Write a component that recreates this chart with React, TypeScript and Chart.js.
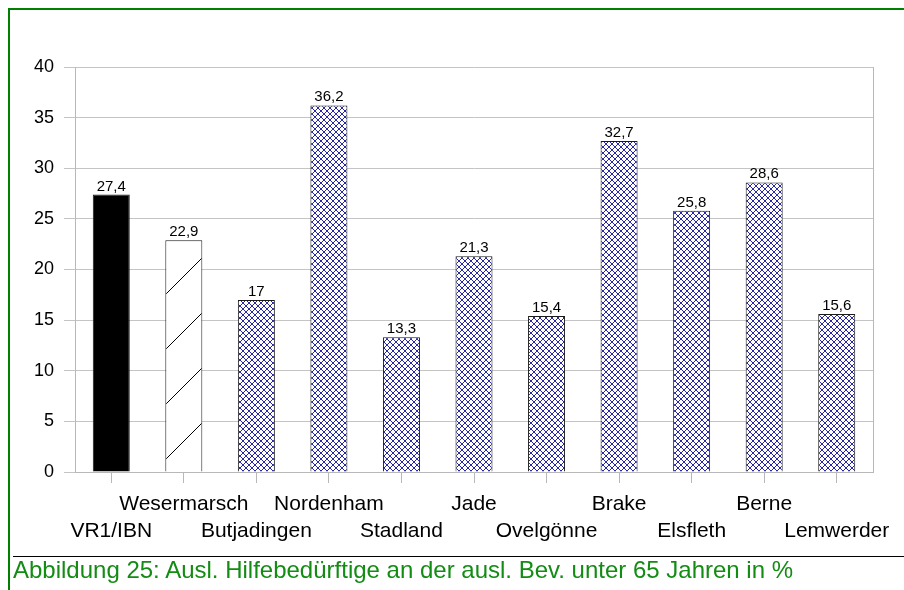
import React, { useEffect, useRef } from 'react';
import { Chart, registerables } from 'chart.js';

Chart.register(...registerables);

const categories = ['VR1/IBN', 'Wesermarsch', 'Butjadingen', 'Nordenham', 'Stadland', 'Jade', 'Ovelgönne', 'Brake', 'Elsfleth', 'Berne', 'Lemwerder'];
const values = [27.4, 22.9, 17, 36.2, 13.3, 21.3, 15.4, 32.7, 25.8, 28.6, 15.6];
const yMin = 0;
const yMax = 40;
const yStep = 5;
const caption = 'Abbildung 25: Ausl. Hilfebedürftige an der ausl. Bev. unter 65 Jahren in %';

const FONT = '"Liberation Sans", Arial, sans-serif';

function makeCrossHatch(): CanvasPattern | string {
  const n = 6;
  const c = document.createElement('canvas');
  c.width = n;
  c.height = n;
  const g = c.getContext('2d');
  if (!g) return '#2a2aa8';
  g.fillStyle = '#ffffff';
  g.fillRect(0, 0, n, n);
  g.fillStyle = '#2828a4';
  for (let i = 0; i < n; i++) {
    g.fillRect(i, i, 1, 1);
    g.fillRect(i, n - 1 - i, 1, 1);
  }
  return g.createPattern(c, 'repeat') || '#2a2aa8';
}

function makeDiagonal(): CanvasPattern | string {
  const s = 55;
  const c = document.createElement('canvas');
  c.width = s;
  c.height = s;
  const g = c.getContext('2d');
  if (!g) return '#ffffff';
  g.fillStyle = '#ffffff';
  g.fillRect(0, 0, s, s);
  g.strokeStyle = '#000000';
  g.lineWidth = 1;
  g.beginPath();
  g.moveTo(-1, 21);
  g.lineTo(21, -1);
  g.moveTo(19, s + 1);
  g.lineTo(s + 1, 19);
  g.stroke();
  return g.createPattern(c, 'repeat') || '#ffffff';
}

const valueLabels = {
  id: 'valueLabels',
  afterDatasetsDraw(chart: any) {
    const ctx = chart.ctx;
    const meta = chart.getDatasetMeta(0);
    ctx.save();
    ctx.font = `15px ${FONT}`;
    ctx.fillStyle = '#000';
    ctx.textAlign = 'center';
    ctx.textBaseline = 'alphabetic';
    meta.data.forEach((bar: any, i: number) => {
      ctx.fillText(String(values[i]).replace('.', ','), bar.x, bar.y - 4);
    });
    ctx.restore();
  },
};

const plotBorder = {
  id: 'plotBorder',
  afterDraw(chart: any) {
    const { ctx, chartArea } = chart;
    ctx.save();
    ctx.strokeStyle = '#b8b8b8';
    ctx.lineWidth = 1;
    ctx.beginPath();
    ctx.moveTo(Math.round(chartArea.right) + 0.5, chartArea.top);
    ctx.lineTo(Math.round(chartArea.right) + 0.5, chartArea.bottom);
    ctx.stroke();
    ctx.restore();
  },
};

export default function App() {
  const ref = useRef<HTMLCanvasElement | null>(null);

  useEffect(() => {
    document.body.style.margin = '0';
    const canvas = ref.current;
    if (!canvas) return;
    const cross = makeCrossHatch();
    const diag = makeDiagonal();
    const bg = values.map((_, i) => (i === 0 ? '#000000' : i === 1 ? diag : cross));
    const labels = categories.map((c, i) => (i % 2 === 1 ? [c, ''] : ['', c]));

    const chart = new Chart(canvas, {
      type: 'bar',
      data: {
        labels,
        datasets: [
          {
            data: values,
            backgroundColor: bg as any,
            borderColor: '#1a1a1a',
            borderWidth: 1,
            categoryPercentage: 1,
            barPercentage: 0.51,
          },
        ],
      },
      options: {
        responsive: false,
        maintainAspectRatio: false,
        animation: false,
        layout: { padding: { top: 67, right: 31, left: 0, bottom: 0 } },
        plugins: {
          legend: { display: false },
          tooltip: { enabled: false },
        },
        scales: {
          x: {
            grid: {
              display: true,
              drawOnChartArea: false,
              offset: false,
              tickLength: 11,
              color: '#b8b8b8',
            },
            border: { display: true, color: '#b8b8b8' },
            ticks: {
              color: '#000',
              font: { family: FONT, size: 21, lineHeight: '27px' },
              padding: 8,
              maxRotation: 0,
              minRotation: 0,
              autoSkip: false,
            },
            afterFit(scale: any) {
              scale.height = 590 - 472;
            },
          },
          y: {
            min: yMin,
            max: yMax,
            ticks: {
              stepSize: yStep,
              color: '#000',
              font: { family: FONT, size: 18 },
              padding: 10,
            },
            grid: { color: '#c4c4c4', tickLength: 11 },
            border: { display: true, color: '#b8b8b8' },
            afterFit(scale: any) {
              scale.width = 75;
            },
          },
        },
      },
      plugins: [valueLabels, plotBorder],
    });
    return () => chart.destroy();
  }, []);

  return (
    <div style={{ position: 'relative', width: 904, height: 590, background: '#fff', overflow: 'hidden' }}>
      <canvas ref={ref} width={904} height={590} style={{ position: 'absolute', left: 0, top: 0, display: 'block' }} />
      <div style={{ position: 'absolute', left: 8, top: 8, width: 2, height: 582, background: '#007f00' }} />
      <div style={{ position: 'absolute', left: 8, top: 8, width: 896, height: 2, background: '#007f00' }} />
      <div style={{ position: 'absolute', left: 13, top: 556, width: 891, height: 1, background: '#000' }} />
      <div
        style={{
          position: 'absolute',
          left: 13,
          top: 558,
          fontFamily: FONT,
          fontSize: 24,
          lineHeight: '24px',
          color: '#138c13',
          whiteSpace: 'nowrap',
        }}
      >
        {caption}
      </div>
    </div>
  );
}
